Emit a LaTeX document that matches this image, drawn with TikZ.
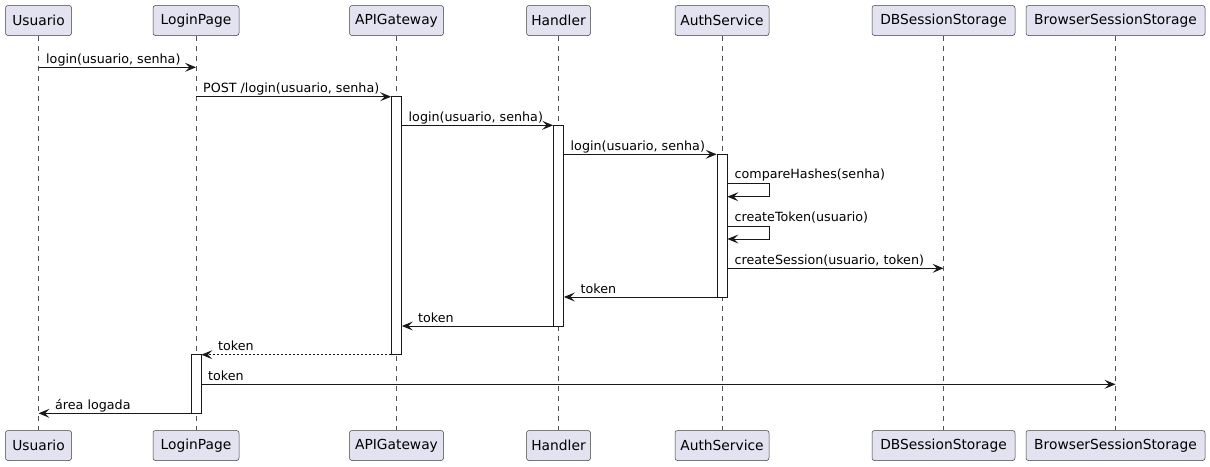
\documentclass[tikz,border=0pt]{standalone}
\usepackage{fontspec}
\setmainfont{DejaVu Sans}
\usetikzlibrary{arrows.meta}
\definecolor{pfill}{HTML}{E2E2F0}
\definecolor{pline}{HTML}{181818}
\begin{document}
\begin{tikzpicture}[x=1pt,y=-1pt,
  part/.style={draw=pline!85, fill=pfill, rounded corners=2.5pt, minimum height=30pt, inner sep=0pt, line width=0.5pt, font=\fontsize{13.8}{16}\selectfont},
  life/.style={draw=pline!75, line width=0.5pt, dash pattern=on 5pt off 5pt},
  act/.style={draw=pline, fill=white, line width=0.8pt, minimum width=10pt, inner sep=0pt},
  msg/.style={draw=pline, line width=1pt, -{Stealth[length=11pt,width=9pt,inset=4.5pt]}},
  ret/.style={msg, dash pattern=on 2pt off 2pt},
  lbl/.style={anchor=base west, inner sep=0pt, font=\fontsize{12.7}{15}\selectfont}
]
\useasboundingbox (0,0) rectangle (1210,466);
% participants top
\node[part, minimum width=66pt]  (tU) at (38.5,20.5) {Usuario};
\node[part, minimum width=86pt]  (tL) at (196,20.5) {LoginPage};
\node[part, minimum width=94pt]  (tA) at (396.5,20.5) {APIGateway};
\node[part, minimum width=64pt]  (tH) at (558.5,20.5) {Handler};
\node[part, minimum width=94pt]  (tS) at (722,20.5) {AuthService};
\node[part, minimum width=143pt] (tD) at (943.5,20.5) {DBSessionStorage};
\node[part, minimum width=179pt] (tB) at (1115.5,20.5) {BrowserSessionStorage};
% participants bottom
\node[part, minimum width=66pt]  (bU) at (38.5,445.5) {Usuario};
\node[part, minimum width=86pt]  (bL) at (196,445.5) {LoginPage};
\node[part, minimum width=94pt]  (bA) at (396.5,445.5) {APIGateway};
\node[part, minimum width=64pt]  (bH) at (558.5,445.5) {Handler};
\node[part, minimum width=94pt]  (bS) at (722,445.5) {AuthService};
\node[part, minimum width=143pt] (bD) at (943.5,445.5) {DBSessionStorage};
\node[part, minimum width=179pt] (bB) at (1115.5,445.5) {BrowserSessionStorage};
% lifelines
\foreach \p in {U,L,A,H,S,D,B}{\draw[life] (t\p.south) -- (b\p.north);}
% activations
\node[act, minimum height=258pt]  (aA) at (396.5,225.7) {};
\node[act, minimum height=200.7pt] (aH) at (558.5,225.65) {};
\node[act, minimum height=142.7pt] (aS) at (722,225.65) {};
\node[act, minimum height=58.6pt]  (aL) at (196,384) {};
% messages
\draw[msg] (tU |- 0,67.3) -- (tL |- 0,67.3);
\node[lbl] (m1) at (46,63.3) {login(usuario, senha)};
\draw[msg] (tL |- 0,96.7) -- (aA.west |- 0,96.7);
\node[lbl] (m2) at (203,92.7) {POST /login(usuario, senha)};
\draw[msg] (aA.east |- 0,125.3) -- (aH.west |- 0,125.3);
\node[lbl] (m3) at (408.5,121.3) {login(usuario, senha)};
\draw[msg] (aH.east |- 0,154.3) -- (aS.west |- 0,154.3);
\node[lbl] (m4) at (570.5,150.3) {login(usuario, senha)};
\coordinate (s1) at (769.3,183.3);
\draw[msg] (aS.east |- 0,183.3) -- (s1) -- ++(0,13.4) -- (aS.east |- 0,196.7);
\node[lbl] (m5) at (734.5,178.3) {compareHashes(senha)};
\coordinate (s2) at (769.3,226.3);
\draw[msg] (aS.east |- 0,226.3) -- (s2) -- ++(0,12.7) -- (aS.east |- 0,239);
\node[lbl] (m6) at (734.5,221.3) {createToken(usuario)};
\draw[msg] (aS.east |- 0,268.3) -- (tD |- 0,268.3);
\node[lbl] (m7) at (734.5,264.3) {createSession(usuario, token)};
\draw[msg] (aS.west |- 0,297) -- (aH.east |- 0,297);
\node[lbl] (m8) at (580.5,293) {token};
\draw[msg] (aH.west |- 0,326) -- (aA.east |- 0,326);
\node[lbl] (m9) at (418,322) {token};
\draw[ret] (aA.west |- 0,354.7) -- (aL.east |- 0,354.7);
\node[lbl] (m10) at (218,350.7) {token};
\draw[msg] (aL.east |- 0,384.3) -- (tB |- 0,384.3);
\node[lbl] (m11) at (208,380.3) {token};
\draw[msg] (aL.west |- 0,413.3) -- (tU |- 0,413.3);
\node[lbl] (m12) at (55,409.3) {área logada};
\end{tikzpicture}
\end{document}
